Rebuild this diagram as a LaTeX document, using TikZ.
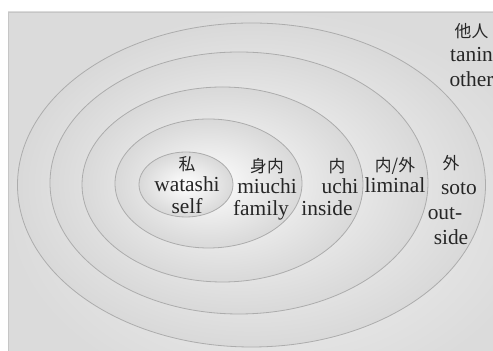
\documentclass[tikz,border=0pt]{standalone}
\usepackage{fontspec}
\setmainfont{Liberation Serif}
\newfontfamily\cjk{Noto Sans CJK JP}
\usetikzlibrary{positioning}
\newcommand{\kanji}[1]{{\cjk\fontsize{8.4}{10}\selectfont #1}}
\newcommand{\nudge}[2]{\rlap{\hspace*{#1}#2}\phantom{#2}}

\begin{document}
\begin{tikzpicture}[
  x=0.5pt, y=-0.5pt,
  ring/.style={draw=gray!65, line width=0.4pt, inner color=white, outer color=gray!30},
  label/.style={align=center, inner sep=0pt, text=black!85,
                font=\fontsize{10.7}{10.8}\selectfont}
]
  \useasboundingbox (0,0) rectangle (493,351);
  \fill[white] (0,0) rectangle (493,351);
  \draw[draw=gray!45, inner color=gray!8, outer color=gray!28] (8,12) rectangle (540,400);

  \draw[ring] (251.5,185) ellipse [x radius=234, y radius=162];
  \draw[ring] (239,183) ellipse [x radius=189, y radius=131];
  \draw[ring] (222.5,184.5) ellipse [x radius=140.5, y radius=97.5];
  \draw[ring] (208.5,183.5) ellipse [x radius=93.5, y radius=64.5];
  \draw[ring] (186,184.5) ellipse [x radius=47, y radius=32.5];

  \node[label] (watashi) at (187,185) {\kanji{私}\\watashi\\self};
  \node[label] (miuchi) at (267,189) {\kanji{身内}\\miuchi\\\nudge{-3pt}{family}};
  \node[label] (uchi) at (340,187) {\nudge{-1.5pt}{\kanji{内}}\\uchi\\\nudge{-6.5pt}{inside}};
  \node[label] (liminal) at (395,175) {\kanji{内/外}\\liminal};
  \node[label, font=\fontsize{10.7}{12.4}\selectfont] (soto) at (451,200)
    {\kanji{外}\\\nudge{4pt}{soto}\\\nudge{-3pt}{out-}\\side};
  \node[label, font=\fontsize{10.7}{12.4}\selectfont] (tanin) at (471.5,55) {\kanji{他人}\\tanin\\other};
\end{tikzpicture}
\end{document}
